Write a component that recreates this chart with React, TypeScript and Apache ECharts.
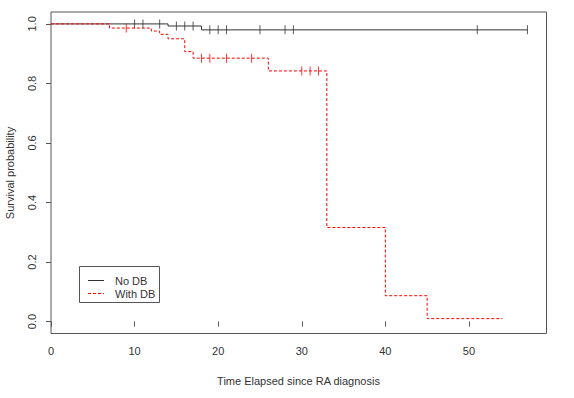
import React, { useEffect, useRef } from "react";
import * as echarts from "echarts";

// Kaplan-Meier step data (time, survival)
const noDbTimes = [0, 14, 18, 57];
const noDbSurv = [1, 0.993, 0.98, 0.98];
const noDbCensor = [10, 11, 13, 15, 16, 17, 19, 20, 21, 25, 28, 29, 51, 57];

const withDbTimes = [0, 7, 12, 13, 14, 16, 17, 26, 33, 40, 45, 54];
const withDbSurv = [1, 0.986, 0.976, 0.965, 0.95, 0.907, 0.885, 0.842, 0.316, 0.087, 0.01, 0.01];
const withDbCensor = [9, 18, 19, 21, 24, 30, 31, 32];

const xTicks = [0, 10, 20, 30, 40, 50];
const yTicks = [0, 0.2, 0.4, 0.6, 0.8, 1.0];

const seriesNames = ["No DB", "With DB"];
const xTitle = "Time Elapsed since RA diagnosis";
const yTitle = "Survival probability";

function survAt(times: number[], surv: number[], t: number) {
  let s = surv[0];
  for (let i = 0; i < times.length; i++) {
    if (times[i] <= t) s = surv[i];
  }
  return s;
}

const FONT = "Liberation Sans, Arial, sans-serif";

export default function App() {
  const ref = useRef<HTMLDivElement>(null);
  useEffect(() => {
    if (!ref.current) return;
    const chart = echarts.init(ref.current, undefined, { renderer: "svg" });
    const black = "#333333";
    const red = "#ff0000";
    chart.setOption({
      animation: false,
      backgroundColor: "#ffffff",
      grid: {
        left: 51,
        right: 27.5,
        top: 12,
        bottom: 64.5,
        show: true,
        borderColor: "#555555",
        borderWidth: 1,
        backgroundColor: "transparent",
      },
      xAxis: {
        type: "value",
        min: 0,
        max: 57 * 1.04,
        splitLine: { show: false },
        axisLine: { show: false },
        axisTick: {
          show: true,
          inside: false,
          length: 5,
          customValues: xTicks,
          lineStyle: { color: "#555555" },
        },
        axisLabel: {
          customValues: xTicks,
          margin: 12,
          color: "#333333",
          fontFamily: FONT,
          fontSize: 11,
          formatter: (v: number) => String(v),
        },
      },
      yAxis: {
        type: "value",
        min: -0.04,
        max: 1.04,
        splitLine: { show: false },
        axisLine: { show: false },
        axisTick: {
          show: true,
          inside: false,
          length: 5,
          customValues: yTicks,
          lineStyle: { color: "#555555" },
        },
        axisLabel: {
          customValues: yTicks,
          rotate: 90,
          margin: 14,
          color: "#333333",
          fontFamily: FONT,
          fontSize: 11,
          formatter: (v: number) => v.toFixed(1),
        },
      },
      graphic: [
        {
          type: "text",
          x: 298.5,
          y: 381,
          style: {
            text: xTitle,
            font: `11px ${FONT}`,
            fill: "#333333",
            align: "center",
            verticalAlign: "middle",
          },
        },
        {
          type: "text",
          x: 10,
          y: 173,
          rotation: Math.PI / 2,
          style: {
            text: yTitle,
            font: `11px ${FONT}`,
            fill: "#333333",
            align: "center",
            verticalAlign: "middle",
          },
        },
        {
          type: "rect",
          shape: { x: 79.5, y: 266.5, width: 80, height: 36 },
          style: { fill: "#ffffff", stroke: "#555555", lineWidth: 1 },
          z: 100,
        },
        {
          type: "line",
          shape: { x1: 88, y1: 280.5, x2: 104, y2: 280.5 },
          style: { stroke: black, lineWidth: 1 },
          z: 101,
        },
        {
          type: "line",
          shape: { x1: 88, y1: 293.5, x2: 104, y2: 293.5 },
          style: { stroke: red, lineWidth: 1, lineDash: [3, 2] },
          z: 101,
        },
        {
          type: "text",
          x: 115,
          y: 280.5,
          style: {
            text: seriesNames[0],
            font: `11px ${FONT}`,
            fill: "#333333",
            verticalAlign: "middle",
          },
          z: 101,
        },
        {
          type: "text",
          x: 115,
          y: 293.5,
          style: {
            text: seriesNames[1],
            font: `11px ${FONT}`,
            fill: "#333333",
            verticalAlign: "middle",
          },
          z: 101,
        },
      ],
      series: [
        {
          name: seriesNames[0],
          type: "line",
          step: "end",
          symbol: "none",
          data: noDbTimes.map((t, i) => [t, noDbSurv[i]]),
          lineStyle: { color: black, width: 1 },
        },
        {
          name: seriesNames[1],
          type: "line",
          step: "end",
          symbol: "none",
          data: withDbTimes.map((t, i) => [t, withDbSurv[i]]),
          lineStyle: { color: red, width: 1, type: [3, 2] },
        },
        {
          type: "scatter",
          symbol: "rect",
          symbolSize: [1, 9],
          data: noDbCensor.map((t) => [t, survAt(noDbTimes, noDbSurv, t)]),
          itemStyle: { color: black },
        },
        {
          type: "scatter",
          symbol: "rect",
          symbolSize: [1, 9],
          data: withDbCensor.map((t) => [t, survAt(withDbTimes, withDbSurv, t)]),
          itemStyle: { color: red },
        },
      ],
    });
    return () => chart.dispose();
  }, []);
  return (
    <div
      ref={ref}
      style={{ position: "fixed", left: 0, top: 0, width: 574, height: 398, background: "#fff" }}
    />
  );
}
